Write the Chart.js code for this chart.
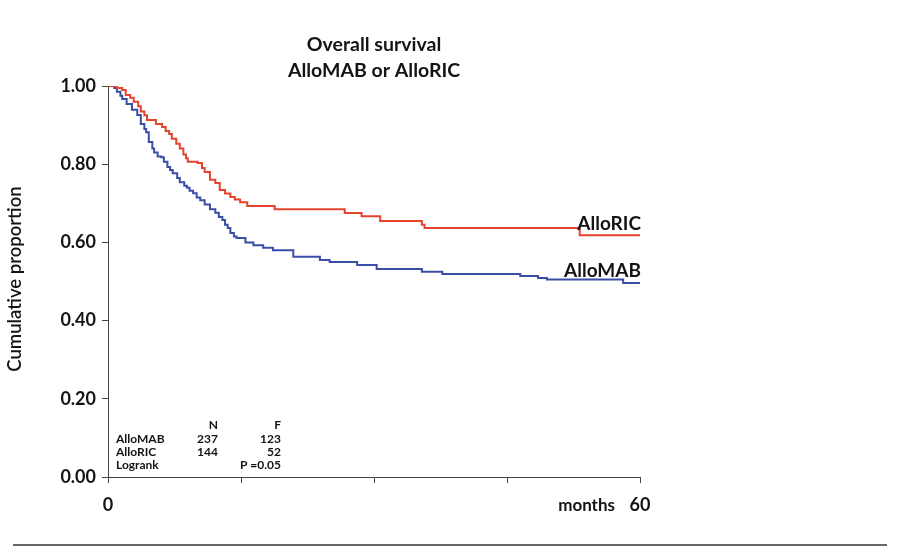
<!DOCTYPE html>
<html>
<head>
<meta charset="utf-8">
<script src="https://cdn.jsdelivr.net/npm/chart.js@4/dist/chart.umd.min.js"></script>
<style>
  html, body { margin: 0; padding: 0; background: #fff; }
  #wrap { width: 897px; height: 547px; }
</style>
</head>
<body>
<div id="wrap"><canvas id="km" width="897" height="547"></canvas></div>
<script>
// Kaplan-Meier steps: time in months, survival after the drop
const ricMonths = [0, 1.0, 1.6, 2.0, 2.5, 2.9, 3.4, 3.7, 4.1, 4.4, 5.4, 6.1, 6.5, 6.9, 7.2, 7.7, 8.1, 8.5, 8.8, 9.0,
  10.1, 10.6, 10.9, 11.5, 12.1, 12.6, 13.2, 13.8, 14.3, 14.9, 15.7, 18.8, 26.7, 28.6, 30.7, 35.4, 35.7, 53.2, 60];
const ricSurvival = [1.00, 0.995, 0.99, 0.977, 0.97, 0.96, 0.948, 0.935, 0.925, 0.913, 0.903, 0.895, 0.885, 0.877, 0.865,
  0.852, 0.84, 0.825, 0.815, 0.806, 0.803, 0.79, 0.78, 0.76, 0.752, 0.734, 0.725, 0.716, 0.71, 0.703, 0.693, 0.685,
  0.675, 0.667, 0.655, 0.645, 0.637, 0.618, 0.618];

const mabMonths = [0, 0.7, 1.0, 1.4, 1.6, 2.1, 2.7, 3.3, 3.7, 4.1, 4.3, 4.6, 5.0, 5.2, 5.6, 6.0, 6.3, 6.7, 7.0, 7.3,
  7.8, 8.1, 8.6, 8.9, 9.2, 9.6, 10.0, 10.4, 10.9, 11.5, 12.1, 12.5, 12.9, 13.2, 13.5, 13.8, 14.2, 14.5, 15.5, 16.4,
  17.5, 18.6, 20.9, 23.9, 25.0, 28.1, 30.3, 35.4, 37.7, 46.5, 48.5, 49.5, 58.1, 60];
const mabSurvival = [1.00, 0.995, 0.985, 0.975, 0.967, 0.954, 0.939, 0.926, 0.903, 0.89, 0.882, 0.857, 0.84, 0.83,
  0.82, 0.818, 0.806, 0.793, 0.785, 0.777, 0.765, 0.754, 0.745, 0.74, 0.732, 0.726, 0.715, 0.708, 0.697, 0.685,
  0.676, 0.665, 0.657, 0.645, 0.637, 0.624, 0.615, 0.611, 0.60, 0.593, 0.586, 0.58, 0.563, 0.555, 0.55, 0.542,
  0.532, 0.525, 0.519, 0.514, 0.509, 0.505, 0.496, 0.496];

const xTicksShown = [0, 60];
const titleLines = ['Overall survival', 'AlloMAB or AlloRIC'];
const tableRows = [
  ['', 'N', 'F'],
  ['AlloMAB', '237', '123'],
  ['AlloRIC', '144', '52'],
  ['Logrank', '', 'P =0.05']
];

const toPoints = (xs, ys) => xs.map((x, i) => ({ x, y: ys[i] }));

const FONT = 'Lato, "Open Sans", sans-serif';
const INK = '#141414';
const RED = '#e5432e';
const BLUE = '#3b4ea6';

const decorations = {
  id: 'decorations',
  afterDraw(chart) {
    const { ctx, chartArea, scales } = chart;
    const x = scales.x, y = scales.y;
    ctx.save();
    ctx.fillStyle = INK;

    // title
    ctx.textAlign = 'center';
    ctx.textBaseline = 'alphabetic';
    ctx.font = `bold 19.5px ${FONT}`;
    const cx = (chartArea.left + chartArea.right) / 2;
    ctx.fillText(titleLines[0], cx, 51);
    ctx.fillText(titleLines[1], cx, 77);

    // y title
    ctx.save();
    ctx.translate(15, 279);
    ctx.rotate(-Math.PI / 2);
    ctx.font = `600 18.5px ${FONT}`;
    ctx.textBaseline = 'middle';
    ctx.fillText('Cumulative proportion', 0, 0);
    ctx.restore();

    // curve labels
    ctx.textAlign = 'right';
    ctx.font = `bold 19px ${FONT}`;
    ctx.fillText('AlloRIC', x.getPixelForValue(60) + 1, y.getPixelForValue(0.635) + 1);
    ctx.fillText('AlloMAB', x.getPixelForValue(60) + 1, y.getPixelForValue(0.515) + 1);

    // x axis word
    ctx.font = `bold 17px ${FONT}`;
    ctx.fillText('months', x.getPixelForValue(60) - 25, 511);

    // summary table
    ctx.font = `bold 12px ${FONT}`;
    const baselines = [429, 443, 456, 469];
    tableRows.forEach((row, i) => {
      ctx.textAlign = 'left';
      ctx.fillText(row[0], 116, baselines[i]);
      ctx.textAlign = 'right';
      ctx.fillText(row[1], 218, baselines[i]);
      ctx.fillText(row[2], 281, baselines[i]);
    });

    // rule under the figure
    ctx.strokeStyle = '#333';
    ctx.lineWidth = 1.5;
    ctx.beginPath();
    ctx.moveTo(13, 545);
    ctx.lineTo(887, 545);
    ctx.stroke();
    ctx.restore();
  }
};

const axisLook = {
  grid: { drawOnChartArea: false, drawTicks: true, tickLength: 6, color: '#444', lineWidth: 1 },
  border: { display: true, color: '#444', width: 1 }
};

new Chart(document.getElementById('km'), {
  type: 'line',
  data: {
    datasets: [
      { label: 'AlloRIC', data: toPoints(ricMonths, ricSurvival), borderColor: RED, borderWidth: 2,
        stepped: 'before', pointRadius: 0, fill: false },
      { label: 'AlloMAB', data: toPoints(mabMonths, mabSurvival), borderColor: BLUE, borderWidth: 2,
        stepped: 'before', pointRadius: 0, fill: false }
    ]
  },
  options: {
    responsive: false,
    animation: false,
    layout: { padding: { left: 0, top: 86, right: 257, bottom: 0 } },
    plugins: { legend: { display: false }, tooltip: { enabled: false }, title: { display: false } },
    scales: {
      x: {
        type: 'linear', min: 0, max: 60,
        ...axisLook,
        afterFit: s => { s.height = 70; },
        afterBuildTicks: s => { s.ticks = [0, 15, 30, 45, 60].map(v => ({ value: v })); },
        ticks: {
          autoSkip: false, maxRotation: 0, padding: 11, color: INK,
          font: { family: FONT, size: 18, weight: 'bold' },
          callback: v => xTicksShown.includes(v) ? String(v) : ''
        }
      },
      y: {
        min: 0, max: 1,
        ...axisLook,
        afterFit: s => { s.width = 108; },
        ticks: {
          stepSize: 0.2, padding: 6, color: INK,
          font: { family: FONT, size: 18, weight: 'bold' },
          callback: v => v.toFixed(2)
        }
      }
    }
  },
  plugins: [decorations]
});
</script>
</body>
</html>
